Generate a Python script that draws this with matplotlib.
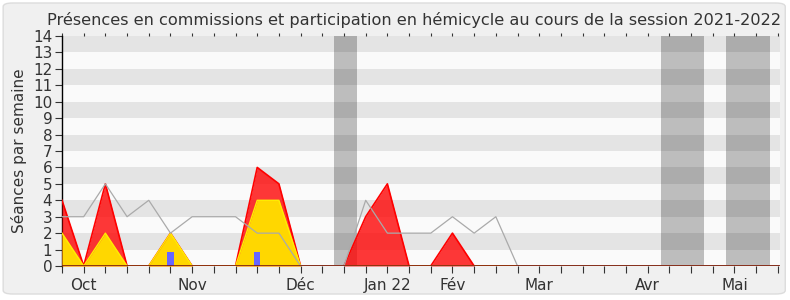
import matplotlib
matplotlib.use("Agg")
import matplotlib.pyplot as plt
from matplotlib.patches import FancyBboxPatch
import numpy as np

# weekly data, week index 0..33
weeks = list(range(34))
hemicycle = [4, 0, 5, 0, 0, 2, 0, 0, 0, 6, 5, 0, 0, 0, 3, 5, 0, 0, 2, 0] + [0] * 14
commissions = [2, 0, 2, 0, 0, 2, 0, 0, 0, 4, 4, 0] + [0] * 22
mediane = [3, 3, 5, 3, 4, 2, 3, 3, 3, 2, 2, 0, 0, 0, 4, 2, 2, 2, 3, 2, 3] + [0] * 13
questions_weeks = [5, 9]
questions = [0.85, 0.85]
vacances = [(12.55, 13.6), (27.6, 29.6), (30.6, 32.65)]
month_pos = [1, 6, 11, 15, 18, 22, 27, 31]
month_labels = ["Oct", "Nov", "Déc", "Jan 22", "Fév", "Mar", "Avr", "Mai"]

fig = plt.figure(figsize=(7.9, 3.0), dpi=100)
fig.patch.set_facecolor("white")
bg = FancyBboxPatch((0.004, 0.02), 0.99, 0.97, boxstyle="round,pad=0,rounding_size=0.012",
                    transform=fig.transFigure, facecolor="#f0f0f0", edgecolor="#dcdcdc",
                    linewidth=1.0, zorder=-10)
fig.patches.append(bg)

ax = fig.add_axes([62 / 790, 34 / 300, 718 / 790, 230 / 300])
ax.set_facecolor("#fafafa")
ax.set_xlim(0, 33.1)
ax.set_ylim(0, 14)

for a, b in vacances:
    ax.axvspan(a, b, color="#bdbdbd", lw=0, zorder=1)
for y in range(1, 14, 2):
    ax.axhspan(y, y + 1, color="black", alpha=0.085, lw=0, zorder=2)

ax.fill_between(weeks, hemicycle, color="#ff0000", alpha=0.78, lw=0, zorder=3)
ax.plot(weeks, hemicycle, color="#ff0000", lw=1.2, zorder=4)
ax.fill_between(weeks, commissions, color="#ffd700", lw=0, zorder=5)
ax.plot(weeks, commissions, color="#ffee00", lw=1.0, zorder=6)
ax.plot(weeks, mediane, color="#aaaaaa", lw=0.9, zorder=7)
ax.bar(questions_weeks, questions, width=0.3, color="#6666ff", zorder=8)
ax.axhline(0, color="#7a1a10", lw=1.2, zorder=9)

for s in ["top", "right", "bottom"]:
    ax.spines[s].set_visible(False)
ax.spines["left"].set_color("black")
ax.spines["left"].set_linewidth(1.0)

ax.set_yticks(range(0, 15))
ax.tick_params(axis="y", length=5, labelsize=11, colors="#333333", pad=2)
ax.set_xticks(weeks)
ax.set_xticklabels([""] * len(weeks))
ax.tick_params(axis="x", length=5, color="#333333", top=True, bottom=True, direction="out")
for i, lab in zip(month_pos, month_labels):
    ax.text(i, -0.75, lab, ha="center", va="top", fontsize=11, color="#333333")
for t in ax.xaxis.get_major_ticks():
    t.tick2line.set_markersize(2)

ax.set_ylabel("Séances par semaine", fontsize=11, color="#333333", labelpad=4)
fig.text(414 / 790, 0.935, "Présences en commissions et participation en hémicycle au cours de la session 2021-2022",
         ha="center", va="center", fontsize=11.6, color="#333333")

fig.savefig("out.png", dpi=100, facecolor=fig.get_facecolor())
